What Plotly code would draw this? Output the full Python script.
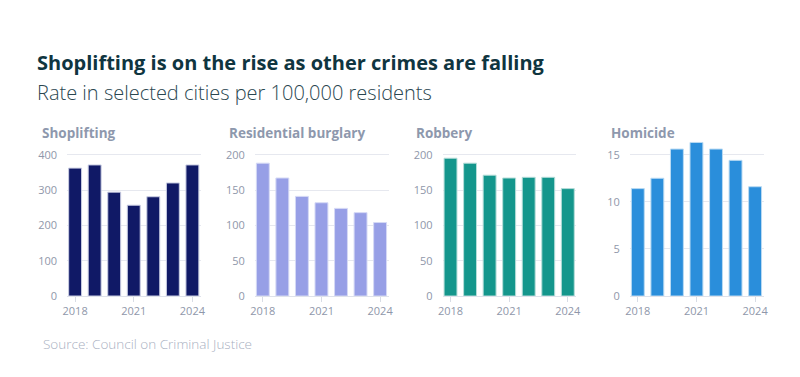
import plotly.graph_objects as go

years = [2018, 2019, 2020, 2021, 2022, 2023, 2024]
shoplifting = [362, 371, 294, 257, 281, 320, 371]
burglary = [188, 167, 141, 132, 124, 118, 104]
robbery = [195, 188, 171, 167, 168, 168, 152]
homicide = [11.4, 12.5, 15.6, 16.3, 15.6, 14.4, 11.6]

panel_titles = ["Shoplifting", "Residential burglary", "Robbery", "Homicide"]
series = [shoplifting, burglary, robbery, homicide]
colors = ["#101966", "#979fe6", "#14968c", "#2a8edb"]
edge_colors = ["#c9cde3", "#d5d9f5", "#b5ddd9", "#b9daf3"]
ytick_vals = [[0, 100, 200, 300, 400], [0, 50, 100, 150, 200], [0, 50, 100, 150, 200], [0, 5, 10, 15]]
ytop = [400, 200, 200, 15]
xtick_vals = [2018, 2021, 2024]

W, H = 800, 377
OFF = 8  # page body margin offset


def px_x(p):
    return (p - OFF) / W


def px_y(p):
    return 1 - (p - OFF) / H


left_px = [67.3, 255, 442.7, 630]
plot_w = 133.5
bottom_px, top_px, grid_top_px = 296, 141, 154.7

fig = go.Figure()
layout_axes = {}
for i, (vals, col) in enumerate(zip(series, colors)):
    n = i + 1
    xa = "x" if n == 1 else f"x{n}"
    ya = "y" if n == 1 else f"y{n}"
    fig.add_trace(go.Bar(x=years, y=vals, xaxis=xa, yaxis=ya,
                         marker=dict(color=col, line=dict(color=edge_colors[i], width=1)),
                         width=0.66, showlegend=False, hoverinfo="x+y"))
    rmax = ytop[i] * (bottom_px - top_px) / (bottom_px - grid_top_px)
    layout_axes[f"xaxis{'' if n == 1 else n}"] = dict(
        domain=[px_x(left_px[i]), px_x(left_px[i] + plot_w)],
        anchor=ya, range=[2017.6, 2024.43], tickvals=xtick_vals,
        ticks="outside", ticklen=5, tickcolor="#d8dce5", tickwidth=1,
        showline=True, linecolor="#dfe2ea", linewidth=1,
        showgrid=False, zeroline=False, automargin=False,
        tickfont=dict(family="Open Sans", size=11, color="#8f97aa"), fixedrange=True)
    layout_axes[f"yaxis{'' if n == 1 else n}"] = dict(
        domain=[px_y(bottom_px), px_y(top_px)],
        anchor=xa, range=[0, rmax], tickvals=ytick_vals[i],
        showgrid=True, gridcolor="#e6e8ef", gridwidth=1, zeroline=False,
        ticks="outside", ticklen=7, tickcolor="rgba(0,0,0,0)", automargin=False,
        tickfont=dict(family="Open Sans", size=11, color="#8f97aa"), fixedrange=True)

annotations = [
    dict(text="<b>Shoplifting is on the rise as other crimes are falling</b>", x=px_x(35), y=px_y(63),
         font=dict(family="Open Sans", size=20, color="#0f3540")),
    dict(text="Rate in selected cities per 100,000 residents", x=px_x(35), y=px_y(93),
         font=dict(family="Open Sans", size=20, color="#2a4650", weight=300)),
    dict(text="Source: Council on Criminal Justice", x=px_x(41), y=px_y(344),
         font=dict(family="Open Sans", size=13.5, color="#a9b0bf", weight=300)),
]
title_x = [40, 227, 414, 609]
for t, px in zip(panel_titles, title_x):
    annotations.append(dict(text=f"<b>{t}</b>", x=px_x(px), y=px_y(132.5),
                            font=dict(family="Open Sans", size=13.5, color="#8e98ad")))
for a in annotations:
    a.update(xref="paper", yref="paper", xanchor="left", yanchor="middle", showarrow=False)

fig.update_layout(width=W, height=H, margin=dict(l=0, r=0, t=0, b=0, pad=0),
                  paper_bgcolor="white", plot_bgcolor="white",
                  annotations=annotations, bargap=0.34, **layout_axes)
fig.write_html("out.html")
